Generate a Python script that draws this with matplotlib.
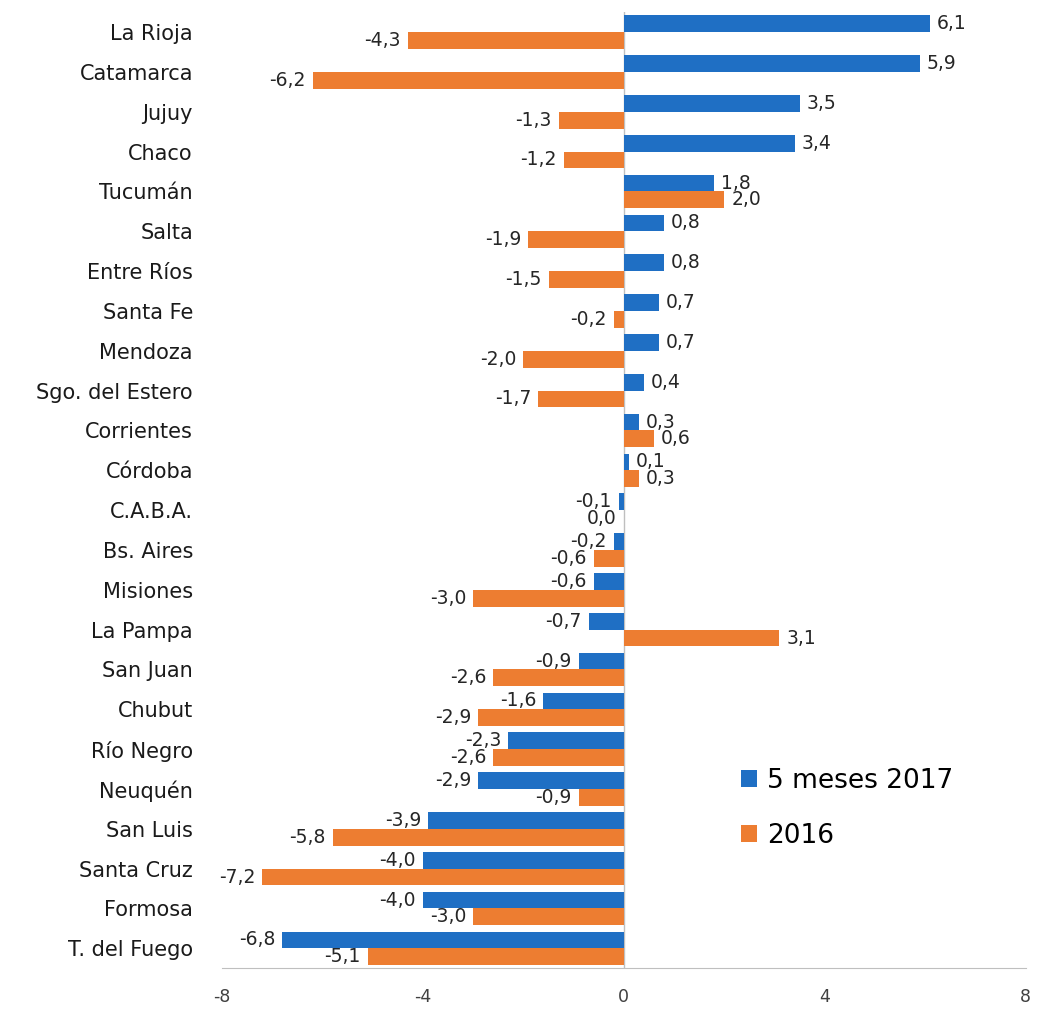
import matplotlib
matplotlib.use('Agg')
import matplotlib.pyplot as plt
import numpy as np

provinces = ['La Rioja', 'Catamarca', 'Jujuy', 'Chaco', 'Tucumán', 'Salta',
             'Entre Ríos', 'Santa Fe', 'Mendoza', 'Sgo. del Estero',
             'Corrientes', 'Córdoba', 'C.A.B.A.', 'Bs. Aires', 'Misiones',
             'La Pampa', 'San Juan', 'Chubut', 'Río Negro', 'Neuquén',
             'San Luis', 'Santa Cruz', 'Formosa', 'T. del Fuego']
meses_2017 = [6.1, 5.9, 3.5, 3.4, 1.8, 0.8, 0.8, 0.7, 0.7, 0.4, 0.3, 0.1,
              -0.1, -0.2, -0.6, -0.7, -0.9, -1.6, -2.3, -2.9, -3.9, -4.0,
              -4.0, -6.8]
anio_2016 = [-4.3, -6.2, -1.3, -1.2, 2.0, -1.9, -1.5, -0.2, -2.0, -1.7, 0.6,
             0.3, 0.0, -0.6, -3.0, 3.1, -2.6, -2.9, -2.6, -0.9, -5.8, -7.2,
             -3.0, -5.1]
xticks = [-8, -4, 0, 4, 8]

BLUE = '#1F6FC4'
ORANGE = '#ED7D31'


def main():
    fig = plt.figure(figsize=(10.38, 10.16), dpi=100)
    ax = fig.add_axes([0.214, 0.047, 0.774, 0.941])

    y = np.arange(len(provinces))
    h = 0.42
    b1 = ax.barh(y - h / 2, meses_2017, height=h, color=BLUE,
                 label='5 meses 2017')
    b2 = ax.barh(y + h / 2, anio_2016, height=h, color=ORANGE, label='2016')

    for bars, vals in ((b1, meses_2017), (b2, anio_2016)):
        texts = ax.bar_label(bars,
                             labels=[f'{v:.1f}'.replace('.', ',') for v in vals],
                             padding=5, fontsize=13.5, color='#262626')
        # zero values sit on the left of the axis, like the negatives
        for t, v in zip(texts, vals):
            if v == 0:
                t.xyann = (-5, 0)
                t.set_ha('right')

    ax.set_ylim(len(provinces) - 0.5, -0.5)
    ax.set_xlim(-8, 8)
    ax.set_xticks(xticks)
    ax.set_xticklabels([str(t) for t in xticks], fontsize=12.5, color='#404040')
    ax.set_yticks(y)
    ax.set_yticklabels(provinces, fontsize=15, color='#1a1a1a')
    ax.tick_params(length=0, pad=21, axis='y')
    ax.tick_params(length=0, pad=14, axis='x')

    for s in ('top', 'right', 'left'):
        ax.spines[s].set_visible(False)
    ax.spines['bottom'].set_color('#bfbfbf')
    ax.axvline(0, color='#bfbfbf', lw=1, zorder=0)

    ax.legend(loc='lower right', bbox_to_anchor=(0.94, 0.1), frameon=False,
              fontsize=19, handlelength=0.6, handleheight=0.6,
              handletextpad=0.4, labelspacing=1.1)

    fig.savefig('out.png')


if __name__ == '__main__':
    main()
